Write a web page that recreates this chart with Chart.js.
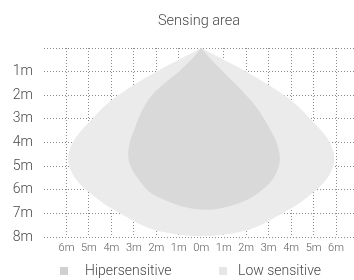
<!DOCTYPE html>
<html>
<head>
<meta charset="utf-8">
<script src="https://cdn.jsdelivr.net/npm/chart.js@4/dist/chart.umd.min.js"></script>
<style>
  html, body { margin: 0; padding: 0; background: #fff; }
  #wrap { width: 354px; height: 280px; }
</style>
</head>
<body>
<div id="wrap"><canvas id="sensing-chart"></canvas></div>
<script>
// outline of each zone in metres (x = side offset, y = depth),
// clockwise from the sensor at the top
const lowX = [0, 1.0, 2.0, 2.9, 3.7, 4.35, 4.85, 5.35, 5.72, 5.92, 5.8, 5.45, 5.0, 4.4, 3.6, 2.4, 1.3, 0,
              -1.3, -2.4, -3.6, -4.4, -5.0, -5.45, -5.8, -5.92, -5.72, -5.35, -4.85, -4.35, -3.7, -2.9, -2.0, -1.0, 0];
const lowY = [0, 0.5, 1, 1.5, 2, 2.5, 3, 3.5, 4, 4.6, 5.2, 5.7, 6.1, 6.55, 7.0, 7.6, 7.86, 7.96,
              7.86, 7.6, 7.0, 6.55, 6.1, 5.7, 5.2, 4.6, 4, 3.5, 3, 2.5, 2, 1.5, 1, 0.5, 0];

const hiX = [0, 0.45, 0.97, 1.5, 2.0, 2.45, 2.8, 3.1, 3.35, 3.5, 3.42, 3.15, 2.65, 2.05, 1.1, 0.2,
             -0.8, -1.55, -2.3, -2.8, -3.1, -3.25, -3.18, -3.0, -2.8, -2.55, -2.2, -1.65, -1.0, -0.45, 0];
const hiY = [0, 0.5, 1, 1.5, 2, 2.5, 3, 3.5, 4, 4.6, 5.1, 5.6, 6.05, 6.42, 6.73, 6.85,
             6.72, 6.47, 6.1, 5.55, 5.1, 4.6, 4.0, 3.5, 3, 2.5, 2, 1.5, 1, 0.5, 0];

const xTicks = [-6, -5, -4, -3, -2, -1, 0, 1, 2, 3, 4, 5, 6];
const yTicks = [0, 1, 2, 3, 4, 5, 6, 7, 8];
const seriesNames = ["Hipersensitive", "Low sensitive"];
const seriesColors = ["#d9d9d9", "#ebebeb"];
const legendColors = ["#d0d0d0", "#e6e6e6"];
const titleText = "Sensing area";

const FONT = "Roboto, 'Liberation Sans', sans-serif";
const TEXT = "#4a4a4a";
const GRID = "#8a8a8a";

function toPoints(xs, ys) {
    return xs.map((x, i) => ({ x: x, y: ys[i] }));
}

// title + legend drawn by hand so they sit where the original has them
const decorPlugin = {
    id: "decor",
    afterDraw(chart) {
        const ctx = chart.ctx;
        const area = chart.chartArea;
        ctx.save();
        ctx.fillStyle = TEXT;
        ctx.font = "300 14.5px " + FONT;
        ctx.textAlign = "center";
        ctx.textBaseline = "middle";
        ctx.fillText(titleText, (area.left + area.right) / 2, 21);

        const items = [{ box: 60, text: 85 }, { box: 219, text: 238 }];
        ctx.font = "300 14px " + FONT;
        ctx.textAlign = "left";
        items.forEach((it, i) => {
            ctx.fillStyle = legendColors[i];
            ctx.fillRect(it.box, 267, 8, 8);
            ctx.fillStyle = TEXT;
            ctx.fillText(seriesNames[i], it.text, 271);
        });
        ctx.restore();
    }
};

document.addEventListener("DOMContentLoaded", () => {
    const ctx = document.getElementById("sensing-chart").getContext("2d");

    const zone = (i, xs, ys) => ({
        label: seriesNames[i],
        data: toPoints(xs, ys),
        backgroundColor: seriesColors[i],
        borderColor: seriesColors[i],
        borderWidth: 0,
        pointRadius: 0,
        tension: 0.35,
        fill: "shape"
    });

    new Chart(ctx, {
        type: "line",
        data: {
            datasets: [zone(0, hiX, hiY), zone(1, lowX, lowY)]
        },
        options: {
            responsive: true,
            maintainAspectRatio: false,
            animation: false,
            events: [],
            layout: { padding: { top: 48, bottom: 23, left: 0, right: 0 } },
            plugins: {
                legend: { display: false },
                title: { display: false },
                tooltip: { enabled: false }
            },
            scales: {
                x: {
                    type: "linear",
                    min: -7,
                    max: 6.8,
                    z: 1,
                    afterBuildTicks: scale => { scale.ticks = xTicks.map(v => ({ value: v })); },
                    afterFit: scale => { scale.height = 20; },
                    border: { display: false, dash: [1, 2] },
                    grid: { color: GRID, lineWidth: 1, drawTicks: false },
                    ticks: {
                        padding: 5,
                        autoSkip: false,
                        maxRotation: 0,
                        color: "#5a5a5a",
                        font: { family: FONT, size: 11, weight: 300 },
                        callback: v => Math.abs(v) + "m"
                    }
                },
                y: {
                    type: "linear",
                    min: 0,
                    max: 8,
                    reverse: true,
                    z: 1,
                    afterBuildTicks: scale => { scale.ticks = yTicks.map(v => ({ value: v })); },
                    afterFit: scale => { scale.width = 44; },
                    border: { display: false, dash: [1, 2] },
                    grid: { color: GRID, lineWidth: 1, drawTicks: false },
                    ticks: {
                        padding: 11,
                        color: TEXT,
                        font: { family: FONT, size: 14, weight: 300 },
                        callback: v => (v === 0 ? "" : v + "m")
                    }
                }
            }
        },
        plugins: [decorPlugin]
    });
});
</script>
</body>
</html>
